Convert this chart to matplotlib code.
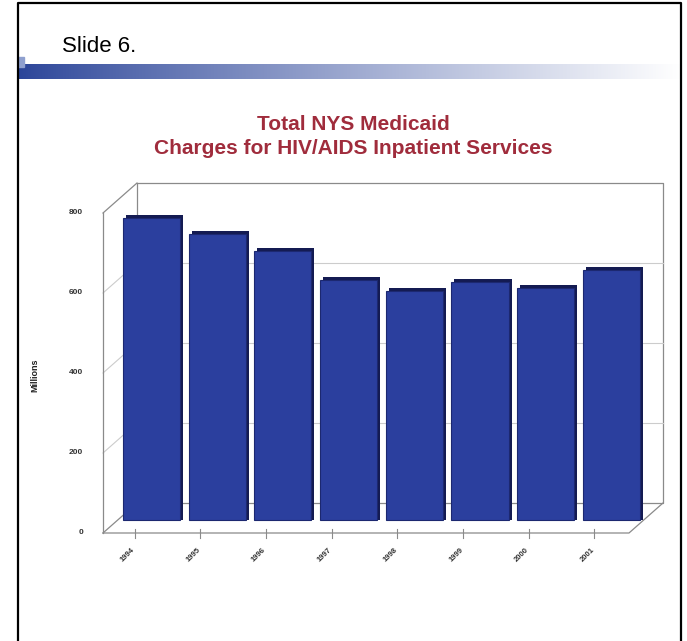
import numpy as np
import matplotlib
matplotlib.use("Agg")
import matplotlib.pyplot as plt

# data (millions of dollars)
years = ["1994", "1995", "1996", "1997", "1998", "1999", "2000", "2001"]
charges = [755, 715, 672, 600, 573, 595, 580, 625]
y_ticks = [0, 200, 400, 600, 800]

W, H = 687, 641
fig = plt.figure(figsize=(W / 100, H / 100), dpi=100)

# decoration layer in pixel units
deco = fig.add_axes([0, 0, 1, 1])
deco.set_xlim(0, W)
deco.set_ylim(H, 0)
deco.axis("off")

# blue band fading to white
grad = np.linspace(0, 1, 400)
band = np.ones((1, 400, 3))
blue = np.array([0.17, 0.27, 0.60])
for i, g in enumerate(grad):
    a = g ** 0.9
    band[0, i] = blue * (1 - a) + np.array([1.0, 1.0, 1.0]) * a
deco.imshow(band, extent=[18, 681, 79, 64], aspect="auto", zorder=1)
deco.add_patch(plt.Rectangle((18, 57), 6, 10, color="#8fa0cf", zorder=2))

# slide frame
deco.plot([18, 18, 681, 681], [H + 5, 3, 3, H + 5], color="black", lw=1.6, zorder=3)
deco.text(62, 46, "Slide 6.", fontsize=16, va="center", ha="left",
          family="Liberation Sans")

# title
deco.text(353, 125, "Total NYS Medicaid", fontsize=15, fontweight="bold",
          color="#a02c3c", ha="center", va="center", family="Liberation Sans")
deco.text(353, 149, "Charges for HIV/AIDS Inpatient Services", fontsize=15,
          fontweight="bold", color="#a02c3c", ha="center", va="center",
          family="Liberation Sans")
deco.text(35, 375, "Millions", fontsize=6.5, fontweight="bold", rotation=90,
          ha="center", va="center", color="#222222", family="Liberation Sans")

# chart axes: x in category units, y in value units
pitch, c0, pxv, base = 65.7, 151.5, 0.4, 520
left, right, top, bottom = 80, 680, 170, 600
ax = fig.add_axes([left / W, (H - bottom) / H, (right - left) / W, (bottom - top) / H])
ax.set_xlim((left - c0) / pitch, (right - c0) / pitch)
ax.set_ylim((base - bottom) / pxv, (base - top) / pxv)
ax.axis("off")
ax.patch.set_alpha(0)

# 3D frame geometry
xf_l = (103 - c0) / pitch
xf_r = (629 - c0) / pitch
dx = 34 / pitch
yf0 = -32.5
dy = 75
xb_l, xb_r, yb0 = xf_l + dx, xf_r + dx, yf0 + dy
frame = "#8a8a8a"
grid = "#cccccc"

# back wall
ax.plot([xb_l, xb_l, xb_r, xb_r, xb_l], [yb0, yb0 + 800, yb0 + 800, yb0, yb0],
        color=frame, lw=0.9, zorder=1)
for t in y_ticks[1:-1]:
    ax.plot([xb_l, xb_r], [yb0 + t, yb0 + t], color=grid, lw=0.8, zorder=1)
    ax.plot([xf_l, xb_l], [yf0 + t, yb0 + t], color=grid, lw=0.8, zorder=1)
# left wall and floor
ax.plot([xf_l, xf_l], [yf0, yf0 + 800], color=frame, lw=0.9, zorder=1)
ax.plot([xf_l, xb_l], [yf0 + 800, yb0 + 800], color=frame, lw=0.9, zorder=1)
ax.plot([xf_l, xb_l], [yf0, yb0], color=frame, lw=0.9, zorder=1)
ax.plot([xf_l, xf_r, xb_r], [yf0, yf0, yb0], color=frame, lw=0.9, zorder=5)

# bars: dark side/top behind, front face on top
x = np.arange(len(years))
ax.bar(x + 0.045, np.array(charges) + 8, width=0.87, color="#141b52", zorder=3)
ax.bar(x, charges, width=0.87, color="#2b3f9e", edgecolor="#1c2870",
       linewidth=0.8, zorder=4)

# y tick labels on front edge
for t in y_ticks:
    ax.text(xf_l - 20 / pitch, yf0 + t, str(t), fontsize=6, fontweight="bold",
            ha="right", va="center", color="#333333", family="Liberation Sans")

# x ticks and rotated labels
for i, yr in enumerate(years):
    xt = i - 17 / pitch
    ax.plot([xt, xt], [yf0 + 10, yf0 - 12], color=frame, lw=0.8, zorder=5)
    ax.text(xt - 7 / pitch, yf0 - 55, yr, fontsize=5.5, fontweight="bold",
            rotation=45, ha="center", va="center", color="#333333",
            family="Liberation Sans")

fig.savefig("out.png", dpi=100)
